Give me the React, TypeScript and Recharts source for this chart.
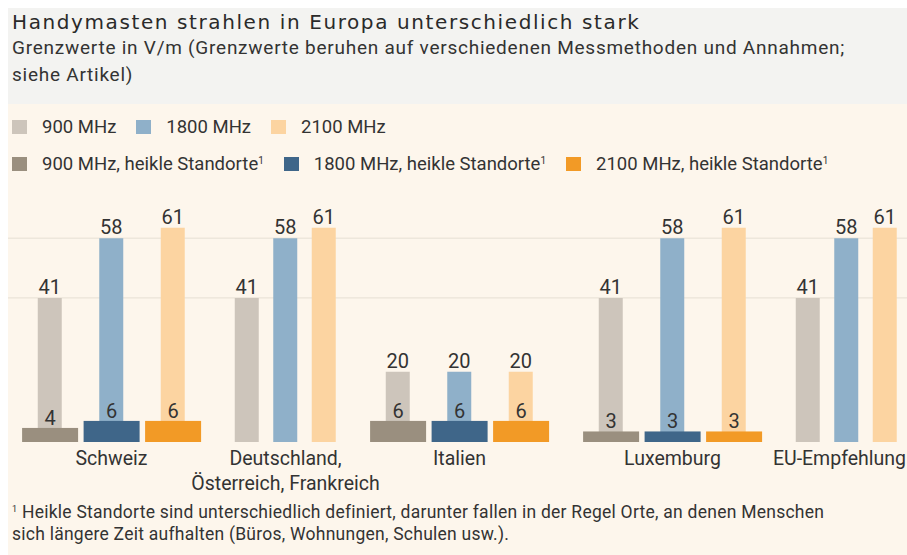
import { Bar, BarChart, CartesianGrid, Cell, LabelList, XAxis, YAxis } from "recharts";

// --- data -------------------------------------------------------------
const countries = ["Schweiz", "Deutschland,\nÖsterreich, Frankreich", "Italien", "Luxemburg", "EU-Empfehlung"];
const frequencies = ["900 MHz", "1800 MHz", "2100 MHz"];

// Grenzwerte in V/m
const limit900 = [41, 41, 20, 41, 41];
const limit1800 = [58, 58, 20, 58, 58];
const limit2100 = [61, 61, 20, 61, 61];

// heikle Standorte (null = keine eigene Regel)
const sensitive900 = [4, null, 6, 3, null];
const sensitive1800 = [6, null, 6, 3, null];
const sensitive2100 = [6, null, 6, 3, null];

const gridValues = [41, 58];

// --- theme ------------------------------------------------------------
const LIGHT = ["#cdc5bb", "#8fb0c9", "#fcd4a1"];
const DARK = ["#9a8f7f", "#3f6689", "#f29a26"];
const INK = "#333333";
const FONT = "Roboto, 'Liberation Sans', sans-serif";
const TITLE_FONT = "'DejaVu Sans', Roboto, sans-serif";
const PANEL = "#f3f3f1";
const CREAM = "#fdf6ec";

// --- layout (x axis runs in container pixels) ---------------------------
const W = 899;
const H = 547;
const THIN = 24;
const WIDE = 56;
const SLOT_WIDE = 61.5;
const SLOT_NARROW = 38.5;
const GROUP_GAP = 34;
const FIRST_EDGE = 14;

const LIMITS = [limit900, limit1800, limit2100];
const SENSITIVE = [sensitive900, sensitive1800, sensitive2100];

type Row = { pos: number; freq: number; limit: number; sensitive: number | null };

const rows: Row[] = [];
const groupCenters: number[] = [];
let edge = FIRST_EDGE;
countries.forEach((_, g) => {
  const hasSensitive = SENSITIVE.some((s) => s[g] != null);
  const half = (hasSensitive ? WIDE : THIN) / 2;
  const step = hasSensitive ? SLOT_WIDE : SLOT_NARROW;
  frequencies.forEach((__, j) => {
    rows.push({ pos: edge + half + j * step, freq: j, limit: LIMITS[j][g], sensitive: SENSITIVE[j][g] });
  });
  groupCenters.push(edge + half + step);
  edge += 2 * half + 2 * step + GROUP_GAP;
});

/** breiter Balken für heikle Standorte, zentriert auf dem Slot */
function WideBar(props: any) {
  const { x, y, width, height, payload } = props;
  if (payload == null || payload.sensitive == null || !height) return <g />;
  const cx = x + width / 2;
  return <rect x={cx - WIDE / 2} y={y} width={WIDE} height={height} fill={DARK[payload.freq]} />;
}

function CountryTick(props: any) {
  const { x, y, payload } = props;
  const idx = groupCenters.indexOf(payload.value);
  const lines = (countries[idx] ?? "").split("\n");
  // letztes Label bündig am rechten Rand, wie im Original
  const last = idx === countries.length - 1;
  const tx = last ? W - 1 : x;
  return (
    <text x={tx} y={y + 15} textAnchor={last ? "end" : "middle"} fill={INK} fontSize={19.5} fontFamily={FONT}>
      {lines.map((l, i) => (
        <tspan key={i} x={tx} dy={i === 0 ? 0 : 25}>
          {l}
        </tspan>
      ))}
    </text>
  );
}

function LegendItem({ color, label, note }: { color: string; label: string; note?: boolean }) {
  return (
    <div style={{ display: "flex", alignItems: "center", marginRight: 20 }}>
      <span style={{ width: 15, height: 14, background: color, marginRight: 15, display: "inline-block" }} />
      <span>
        {label}
        {note && <sup style={{ fontSize: 10, verticalAlign: "6px", lineHeight: 0 }}>1</sup>}
      </span>
    </div>
  );
}

export default function App() {
  return (
    <div
      style={{
        position: "fixed",
        left: 8,
        top: 8,
        width: W,
        height: H,
        background: CREAM,
        color: INK,
        fontFamily: FONT,
        overflow: "hidden",
      }}
    >
      <div style={{ position: "absolute", left: 0, top: 0, width: W, height: 96, background: PANEL }} />
      <div
        style={{
          position: "absolute",
          left: 4,
          top: 5,
          fontFamily: TITLE_FONT,
          fontSize: 20,
          lineHeight: "19px",
          letterSpacing: 1.6,
          color: "#2a2a2a",
          whiteSpace: "nowrap",
        }}
      >
        Handymasten strahlen in Europa unterschiedlich stark
      </div>
      <div
        style={{
          position: "absolute",
          left: 4,
          top: 27,
          width: 890,
          fontSize: 19,
          letterSpacing: 0.75,
          lineHeight: "26.5px",
          whiteSpace: "nowrap",
        }}
      >
        Grenzwerte in V/m (Grenzwerte beruhen auf verschiedenen Messmethoden und Annahmen;
        <br />
        siehe Artikel)
      </div>

      <div style={{ position: "absolute", left: 4, top: 109, display: "flex", fontSize: 18.5, lineHeight: "20px" }}>
        {frequencies.map((f, i) => (
          <LegendItem key={f} color={LIGHT[i]} label={f} />
        ))}
      </div>
      <div style={{ position: "absolute", left: 4, top: 146, display: "flex", fontSize: 18.5, lineHeight: "20px" }}>
        {frequencies.map((f, i) => (
          <LegendItem key={f} color={DARK[i]} label={`${f}, heikle Standorte`} note />
        ))}
      </div>

      <div style={{ position: "absolute", left: 0, top: 0 }}>
        <BarChart width={W} height={H} data={rows} margin={{ top: 188, right: 0, bottom: 53, left: 0 }}>
          <CartesianGrid vertical={false} horizontalValues={gridValues} stroke="#e6dfd4" />
          <YAxis hide type="number" domain={[0, 70]} ticks={gridValues} />
          <XAxis
            xAxisId="thin"
            type="number"
            dataKey="pos"
            domain={[0, W]}
            ticks={groupCenters}
            interval={0}
            axisLine={false}
            tickLine={false}
            height={60}
            tick={<CountryTick />}
          />
          <XAxis xAxisId="wide" type="number" dataKey="pos" domain={[0, W]} hide />
          <Bar xAxisId="thin" dataKey="limit" barSize={THIN} isAnimationActive={false}>
            {rows.map((r, i) => (
              <Cell key={i} fill={LIGHT[r.freq]} />
            ))}
            <LabelList dataKey="limit" position="top" offset={4} fill={INK} fontSize={20} fontFamily={FONT} />
          </Bar>
          <Bar xAxisId="wide" dataKey="sensitive" shape={<WideBar />} isAnimationActive={false}>
            <LabelList dataKey="sensitive" position="top" offset={3} fill={INK} fontSize={20} fontFamily={FONT} />
          </Bar>
        </BarChart>
      </div>

      <div
        style={{
          position: "absolute",
          left: 4,
          top: 493,
          fontSize: 17.5,
          letterSpacing: 0.25,
          lineHeight: "22px",
          width: 890,
          whiteSpace: "nowrap",
        }}
      >
        <sup style={{ fontSize: 9, verticalAlign: "6px", lineHeight: 0 }}>1</sup> Heikle Standorte sind unterschiedlich
        definiert, darunter fallen in der Regel Orte, an denen Menschen
        <br />
        sich längere Zeit aufhalten (Büros, Wohnungen, Schulen usw.).
      </div>
    </div>
  );
}
